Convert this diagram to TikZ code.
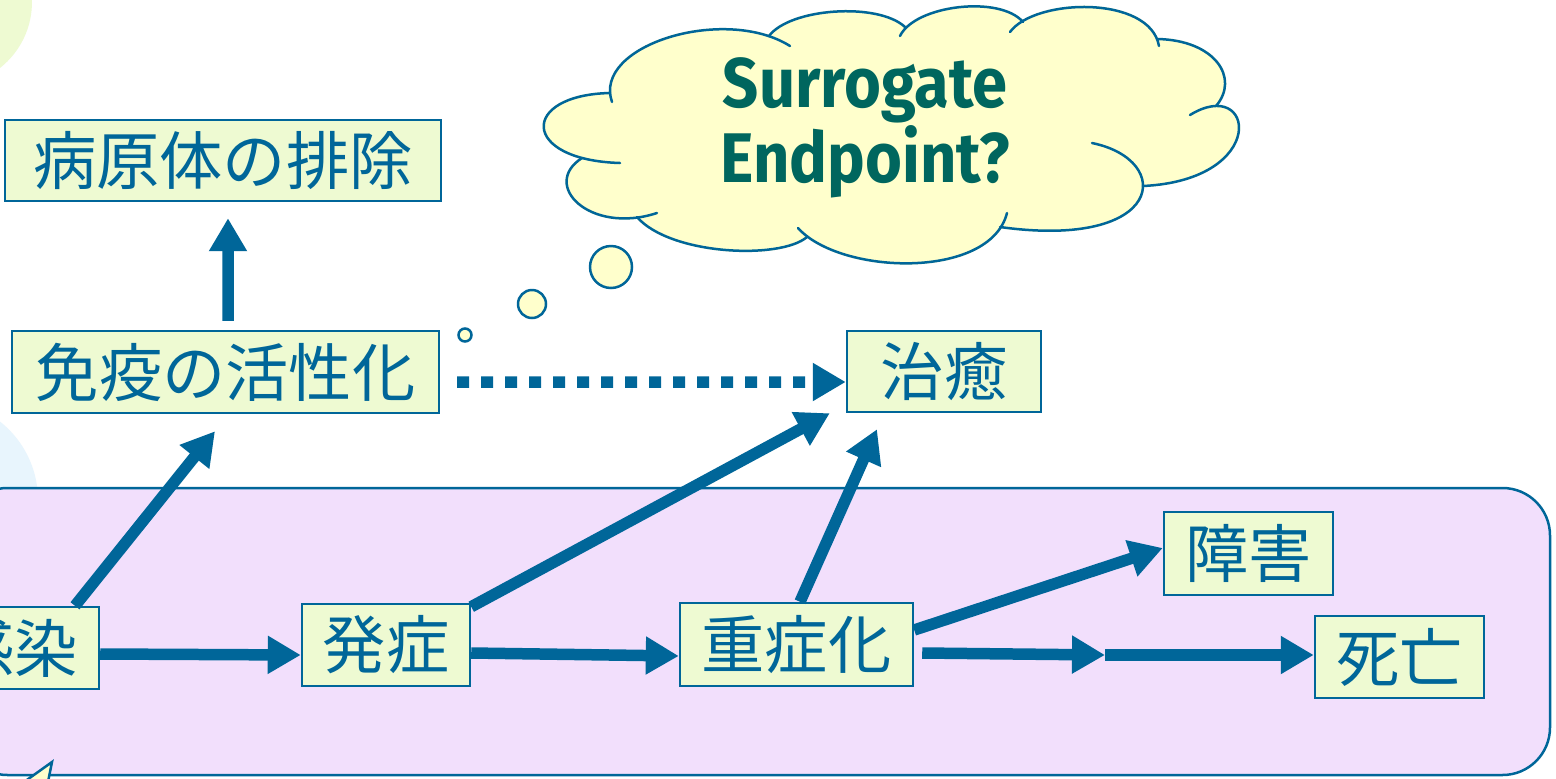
\documentclass[tikz,border=0pt]{standalone}
\usepackage{fontspec}
\newfontfamily\jp{Noto Sans CJK JP}
\newfontfamily\cl{Fira Sans}
\usetikzlibrary{arrows.meta,calc}
\definecolor{bl}{HTML}{006699}
\definecolor{boxfill}{HTML}{EEFAD2}
\definecolor{purp}{HTML}{F2DFFC}
\definecolor{cloudy}{HTML}{FFFFCC}
\definecolor{cltext}{HTML}{00665E}
\definecolor{lgreen}{HTML}{EEFAD2}
\definecolor{lblue}{HTML}{E8F5FD}
\tikzset{
  box/.style={draw=bl, line width=0.05cm, fill=boxfill, text=bl, inner sep=0pt,
    font=\jp\fontsize{36}{40}\selectfont},
  arr/.style={draw=bl, line width=0.23cm, -{Triangle[length=0.66cm,width=0.72cm]}},
  dotarr/.style={arr, dash pattern=on 0.24cm off 0.24cm},
  cloudline/.style={draw=bl, line width=0.05cm},
}
\begin{document}
\begin{tikzpicture}[x=0.02cm,y=-0.02cm]
\useasboundingbox (0,0) rectangle (1556,778);
\clip (0,0) rectangle (1556,778);
\fill[white] (0,0) rectangle (1556,778);
% background decorations
\fill[lgreen] (-52,2) circle (1.68cm);
\fill[lblue] (-62,500) circle (2cm);
\draw[draw=bl, line width=0.05cm, fill=purp, rounded corners=0.95cm] (-40,488) rectangle (1550,775);
\draw[draw=bl, line width=0.05cm, fill=cloudy] (10,792) -- (52,762) -- (46,792) -- cycle;

% cloud
\fill[cloudy] (620,163) -- (612,100) -- (790,46) -- (905,30) -- (1020,25) -- (1158,44)
  -- (1210,100) -- (1143,186) -- (1000,227) -- (807,237) -- (637,217) -- (582,158) -- cycle;
\foreach \p in {
  {(610,93) .. controls (520,95) and (520,160) .. (620,163)},
  {(612,102) .. controls (592,45) and (725,5) .. (790,46)},
  {(769,36) .. controls (790,8) and (878,2) .. (905,27)},
  {(900,36) .. controls (915,5) and (1000,-5) .. (1023,22)},
  {(1010,32) .. controls (1035,-2) and (1150,-5) .. (1159,46)},
  {(1157,39) .. controls (1215,40) and (1240,78) .. (1216,106)},
  {(1190,115) .. controls (1255,75) and (1270,180) .. (1143,186)},
  {(1092,143) .. controls (1175,160) and (1165,250) .. (1000,227)},
  {(798,228) .. controls (840,275) and (990,280) .. (1007,213)},
  {(637,217) .. controls (670,255) and (780,260) .. (807,237)},
  {(582,158) .. controls (540,185) and (590,235) .. (657,213)}}
  {\path[fill=cloudy, draw=cloudy, line width=1.5pt, line join=round] (890,135) -- \p -- cycle;}
\foreach \p in {
  {(610,93) .. controls (520,95) and (520,160) .. (620,163)},
  {(612,102) .. controls (592,45) and (725,5) .. (790,46)},
  {(769,36) .. controls (790,8) and (878,2) .. (905,27)},
  {(900,36) .. controls (915,5) and (1000,-5) .. (1023,22)},
  {(1010,32) .. controls (1035,-2) and (1150,-5) .. (1159,46)},
  {(1157,39) .. controls (1215,40) and (1240,78) .. (1216,106)},
  {(1190,115) .. controls (1255,75) and (1270,180) .. (1143,186)},
  {(1092,143) .. controls (1175,160) and (1165,250) .. (1000,227)},
  {(798,228) .. controls (840,275) and (990,280) .. (1007,213)},
  {(637,217) .. controls (670,255) and (780,260) .. (807,237)},
  {(582,158) .. controls (540,185) and (590,235) .. (657,213)}}
  {\draw[cloudline, line cap=round] \p;}
\node[align=center, text=cltext, font=\cl\bfseries\fontsize{40}{36.3}\selectfont] (q) at (865,128)
  {\scalebox{0.9}[1]{Surrogate}\\\scalebox{0.9}[1]{Endpoint?}};
\draw[cloudline, fill=cloudy] (611,267) circle (0.42cm);
\draw[cloudline, fill=cloudy] (532,304) circle (0.28cm);
\draw[cloudline, fill=cloudy] (465,335) circle (0.13cm);

% boxes
\node[box, minimum width=8.72cm, minimum height=1.62cm] (path) at (223,160.5) {病原体の排除};
\node[box, minimum width=8.54cm, minimum height=1.64cm] (imm) at (225.5,372) {免疫の活性化};
\node[box, minimum width=3.88cm, minimum height=1.62cm] (cure) at (944,371.5) {治癒};
\node[box, minimum width=3.36cm, minimum height=1.64cm] (inf) at (15,648) {感染};
\node[box, minimum width=3.36cm, minimum height=1.64cm] (dev) at (386,645) {発症};
\node[box, minimum width=4.66cm, minimum height=1.66cm] (sev) at (796.5,644.5) {重症化};
\node[box, minimum width=3.38cm, minimum height=1.66cm] (dis) at (1248.5,553.5) {障害};
\node[box, minimum width=3.38cm, minimum height=1.64cm] (death) at (1399.5,657) {死亡};
\coordinate (mid) at (1105,655);

% connectors
\draw[arr] ($(imm.north)+(2.5,-9)$) -- ($(path.south)+(5,16)$);
\draw[arr] ($(inf.north)+(60,0)$) -- ($(imm.south)+(-10.5,17)$);
\draw[arr] ($(inf.east)+(0,6)$) -- ($(dev.west)+(0,10)$);
\draw[arr] ($(dev.north east)+(0,4)$) -- ($(cure.south west)+(-16,0)$);
\draw[arr] ($(dev.east)+(0,8)$) -- ($(sev.west)+(0,11.5)$);
\draw[arr] ($(sev.north)+(3.5,0)$) -- ($(cure.south)+(-67,16)$);
\draw[arr] ($(sev.east)+(0,-14.5)$) -- ($(dis.west)+(0,-5.5)$);
\draw[arr] ($(sev.east)+(8,8.5)$) -- (mid);
\draw[arr] (mid) -- ($(death.west)+(0,-2)$);
\draw[dotarr] ($(imm.east)+(17,10)$) -- ($(cure.west)+(0,10.5)$);
\end{tikzpicture}
\end{document}
